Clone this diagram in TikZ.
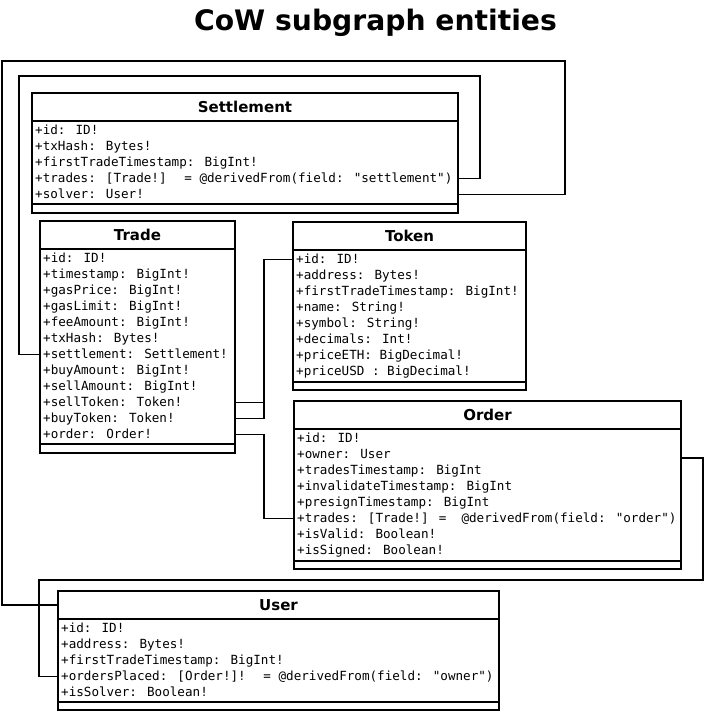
\documentclass[tikz,border=0pt]{standalone}
\usepackage{fontspec}
\setmainfont{DejaVu Sans}
\newfontfamily\monof{DejaVu Sans Mono}
\begin{document}
\begin{tikzpicture}[x=1pt,y=-1pt,
  lw/.style={line width=1.9pt},
  clsbox/.style={draw,lw,anchor=north west,inner sep=0pt,outer sep=0pt},
  hdr/.style={anchor=base,inner sep=0pt,font=\fontsize{15}{18}\selectfont\bfseries},
  row/.style={anchor=west,inner sep=0pt,text height=10pt,text depth=2pt,font=\fontsize{12.6}{16}\selectfont\monof},
  conn/.style={lw,line join=miter}]
\useasboundingbox (0,0) rectangle (705,713);
\node[anchor=base,inner sep=0pt,font=\fontsize{28.2}{32}\selectfont\bfseries] (title) at (375.5,30) {CoW subgraph entities};

% Settlement
\node[clsbox,minimum width=426pt,minimum height=120pt] (settle) at (32,93) {};
\draw[lw] (settle.west |- 0,121) -- (settle.east |- 0,121);
\draw[lw] (settle.west |- 0,204) -- (settle.east |- 0,204);
\node[hdr] (settleh) at (245,112) {Settlement};
\node[row] (s1) at (35,130.5) {+id: ID!};
\node[row] (s2) at (35,146.5) {+txHash: Bytes!};
\node[row] (s3) at (35,162.5) {+firstTradeTimestamp: BigInt!};
\node[row] (s4) at (35,178.5) {+trades: [Trade!]~ = @derivedFrom(field: "settlement")};
\node[row] (s5) at (35,194.5) {+solver: User!};

% Trade
\node[clsbox,minimum width=195pt,minimum height=232pt] (trade) at (40,221) {};
\draw[lw] (trade.west |- 0,249) -- (trade.east |- 0,249);
\draw[lw] (trade.west |- 0,444) -- (trade.east |- 0,444);
\node[hdr] (tradeh) at (137.5,240) {Trade};
\node[row] (t1) at (43,258.5) {+id: ID!};
\node[row] (t2) at (43,274.5) {+timestamp: BigInt!};
\node[row] (t3) at (43,290.5) {+gasPrice: BigInt!};
\node[row] (t4) at (43,306.5) {+gasLimit: BigInt!};
\node[row] (t5) at (43,322.5) {+feeAmount: BigInt!};
\node[row] (t6) at (43,338.5) {+txHash: Bytes!};
\node[row] (t7) at (43,354.5) {+settlement: Settlement!};
\node[row] (t8) at (43,370.5) {+buyAmount: BigInt!};
\node[row] (t9) at (43,386.5) {+sellAmount: BigInt!};
\node[row] (t10) at (43,402.5) {+sellToken: Token!};
\node[row] (t11) at (43,418.5) {+buyToken: Token!};
\node[row] (t12) at (43,434.5) {+order: Order!};

% Token
\node[clsbox,minimum width=233pt,minimum height=168pt] (token) at (293,222) {};
\draw[lw] (token.west |- 0,250) -- (token.east |- 0,250);
\draw[lw] (token.west |- 0,382) -- (token.east |- 0,382);
\node[hdr] (tokenh) at (409.5,241) {Token};
\node[row] (k1) at (296,259.5) {+id: ID!};
\node[row] (k2) at (296,275.5) {+address: Bytes!};
\node[row] (k3) at (296,291.5) {+firstTradeTimestamp: BigInt!};
\node[row] (k4) at (296,307.5) {+name: String!};
\node[row] (k5) at (296,323.5) {+symbol: String!};
\node[row] (k6) at (296,339.5) {+decimals: Int!};
\node[row] (k7) at (296,355.5) {+priceETH: BigDecimal!};
\node[row] (k8) at (296,371.5) {+priceUSD : BigDecimal!};

% Order
\node[clsbox,minimum width=387pt,minimum height=168pt] (order) at (294,401) {};
\draw[lw] (order.west |- 0,429) -- (order.east |- 0,429);
\draw[lw] (order.west |- 0,561) -- (order.east |- 0,561);
\node[hdr] (orderh) at (487.5,420) {Order};
\node[row] (o1) at (297,438.5) {+id: ID!};
\node[row] (o2) at (297,454.5) {+owner: User};
\node[row] (o3) at (297,470.5) {+tradesTimestamp: BigInt};
\node[row] (o4) at (297,486.5) {+invalidateTimestamp: BigInt};
\node[row] (o5) at (297,502.5) {+presignTimestamp: BigInt};
\node[row] (o6) at (297,518.5) {+trades: [Trade!] =~ @derivedFrom(field: "order")};
\node[row] (o7) at (297,534.5) {+isValid: Boolean!};
\node[row] (o8) at (297,550.5) {+isSigned: Boolean!};

% User
\node[clsbox,minimum width=441pt,minimum height=119pt] (user) at (58,591) {};
\draw[lw] (user.west |- 0,619) -- (user.east |- 0,619);
\draw[lw] (user.west |- 0,702) -- (user.east |- 0,702);
\node[hdr] (userh) at (278.5,610) {User};
\node[row] (u1) at (61,628.5) {+id: ID!};
\node[row] (u2) at (61,644.5) {+address: Bytes!};
\node[row] (u3) at (61,660.5) {+firstTradeTimestamp: BigInt!};
\node[row] (u4) at (61,676.5) {+ordersPlaced: [Order!]!~ = @derivedFrom(field: "owner")};
\node[row] (u5) at (61,692.5) {+isSolver: Boolean!};

% connectors
\coordinate (c1) at (480,76);
\coordinate (c2) at (19,76);
\draw[conn] (settle.east |- s4) -| (c1) -- (c2) |- (trade.west |- t7);
\coordinate (d1) at (565,61);
\coordinate (d2) at (2,61);
\draw[conn] (settle.east |- s5) -| (d1) -- (d2) |- (user.west |- 0,605);
\coordinate (m) at (264,0);
\draw[conn] (trade.east |- t10) -| (m |- k1) -- (token.west |- k1);
\draw[conn] (trade.east |- t11) -| (m |- t10);
\draw[conn] (trade.east |- t12) -| (m |- o6) -- (order.west |- o6);
\coordinate (e1) at (703,580);
\coordinate (e2) at (39,580);
\draw[conn] (order.east |- 0,458) -| (e1) -- (e2) |- (user.west |- u4);
\end{tikzpicture}
\end{document}
